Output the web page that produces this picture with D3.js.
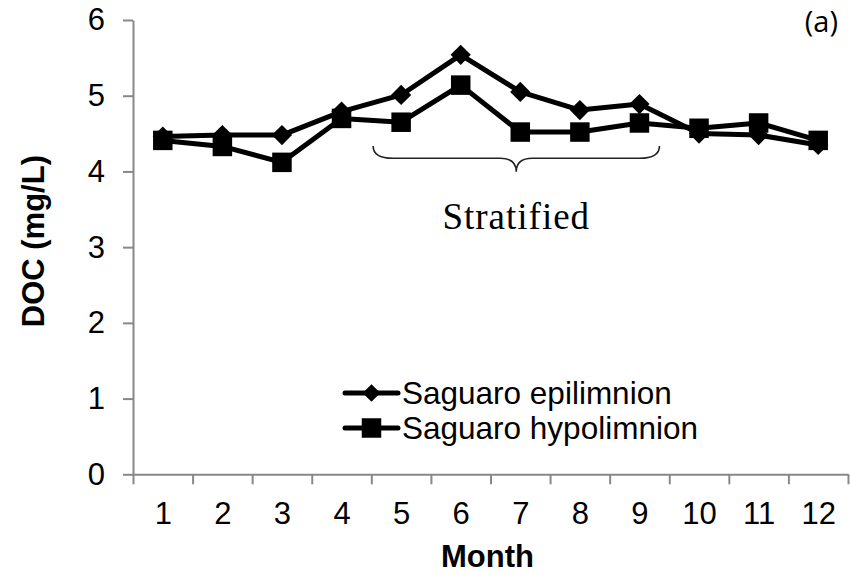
<!DOCTYPE html>
<html>
<head>
<meta charset="utf-8">
<script src="https://cdn.jsdelivr.net/npm/d3@7"></script>
<style>
  html, body { margin: 0; padding: 0; background: #fff; }
  svg { display: block; }
</style>
</head>
<body>
<svg id="chart" width="850" height="579"></svg>
<script>
// Monthly DOC at Saguaro Lake
const months = [1, 2, 3, 4, 5, 6, 7, 8, 9, 10, 11, 12];
const epilimnion = [4.46, 4.48, 4.48, 4.79, 5.01, 5.54, 5.05, 4.81, 4.89, 4.50, 4.48, 4.35];
const hypolimnion = [4.41, 4.33, 4.12, 4.70, 4.65, 5.14, 4.52, 4.52, 4.64, 4.57, 4.64, 4.41];
const yTicks = [0, 1, 2, 3, 4, 5, 6];
const seriesNames = ["Saguaro epilimnion", "Saguaro hypolimnion"];
const stratifiedMonths = [5, 9];

const svg = d3.select("#chart");
const plotLeft = 133, plotRight = 848, plotTop = 20, plotBottom = 474.3;
const sans = "'Liberation Sans', Arial, sans-serif";
const axisColor = "#888";

const x = d3.scaleLinear().domain([0.5, 12.5]).range([plotLeft, plotRight]);
const y = d3.scaleLinear().domain([0, 6]).range([plotBottom, plotTop]);

// y axis
const yAxis = svg.append("g")
  .attr("transform", `translate(${plotLeft},0)`)
  .call(d3.axisLeft(y).tickValues(yTicks).tickSize(10).tickPadding(18).tickSizeOuter(0).tickFormat(d3.format("d")));
yAxis.selectAll("text").attr("font-family", sans).attr("font-size", 31).attr("fill", "#000");

// x axis: tick marks on month boundaries, labels at month centres
const xAxis = svg.append("g")
  .attr("transform", `translate(0,${plotBottom})`)
  .call(d3.axisBottom(x).tickValues(d3.range(0.5, 12.6, 1)).tickSize(10).tickSizeOuter(0).tickFormat(""));
const xLabels = svg.append("g")
  .attr("transform", `translate(0,${plotBottom})`)
  .call(d3.axisBottom(x).tickValues(months).tickSize(0).tickPadding(28).tickFormat(d3.format("d")));
xLabels.select(".domain").remove();
xLabels.selectAll("text").attr("font-family", sans).attr("font-size", 31).attr("fill", "#000");

[yAxis, xAxis].forEach(g => {
  g.selectAll(".domain, line").attr("stroke", axisColor).attr("stroke-width", 2);
});

// axis titles
svg.append("text")
  .attr("x", (plotLeft + plotRight) / 2 - 3).attr("y", 567)
  .attr("text-anchor", "middle")
  .attr("font-family", sans).attr("font-size", 31).attr("font-weight", "bold")
  .text("Month");
svg.append("text")
  .attr("transform", `translate(44,${(plotTop + plotBottom) / 2 - 6}) rotate(-90)`)
  .attr("text-anchor", "middle")
  .attr("font-family", sans).attr("font-size", 31).attr("font-weight", "bold")
  .text("DOC (mg/L)");

// panel tag
svg.append("text")
  .attr("x", 838).attr("y", 32)
  .attr("text-anchor", "end")
  .attr("font-family", "'Open Sans', sans-serif").attr("font-size", 29)
  .text("(a)");

// series
const line = d3.line().x((d, i) => x(months[i])).y(d => y(d));
const diamond = d3.symbol().type(d3.symbolDiamond2).size(260);
const square = d3.symbol().type(d3.symbolSquare).size(380);

function drawSeries(values, sym) {
  const g = svg.append("g");
  g.append("path").datum(values)
    .attr("d", line).attr("fill", "none")
    .attr("stroke", "#000").attr("stroke-width", 5).attr("stroke-linejoin", "round");
  g.selectAll("path.m").data(values).join("path").attr("class", "m")
    .attr("d", sym)
    .attr("transform", (d, i) => `translate(${x(months[i])},${y(d)})`)
    .attr("fill", "#000");
}
drawSeries(epilimnion, diamond);
drawSeries(hypolimnion, square);

// brace over the stratified months
const bx0 = x(stratifiedMonths[0]) - 28, bx1 = x(stratifiedMonths[1]) + 20;
const bm = (bx0 + bx1) / 2;
const by0 = 146, by1 = 158.3, by2 = 171.7;
svg.append("path")
  .attr("d", `M${bx0},${by0} Q${bx0},${by1} ${bx0 + 20},${by1} L${bm - 16},${by1} Q${bm},${by1} ${bm},${by2} Q${bm},${by1} ${bm + 16},${by1} L${bx1 - 20},${by1} Q${bx1},${by1} ${bx1},${by0}`)
  .attr("fill", "none").attr("stroke", "#222").attr("stroke-width", 1.6);
svg.append("text")
  .attr("x", bm).attr("y", 229)
  .attr("text-anchor", "middle")
  .attr("font-family", "'Liberation Serif', 'Times New Roman', serif")
  .attr("font-size", 37).attr("letter-spacing", 1)
  .text("Stratified");

// legend
const legend = svg.append("g");
const legendRows = [
  { name: seriesNames[0], sym: d3.symbol().type(d3.symbolDiamond2).size(200), y: 393 },
  { name: seriesNames[1], sym: d3.symbol().type(d3.symbolSquare).size(380), y: 428 }
];
legendRows.forEach(r => {
  legend.append("line")
    .attr("x1", 345).attr("x2", 398).attr("y1", r.y).attr("y2", r.y)
    .attr("stroke", "#000").attr("stroke-width", 5).attr("stroke-linecap", "round");
  legend.append("path").attr("d", r.sym)
    .attr("transform", `translate(371.5,${r.y})`).attr("fill", "#000");
  legend.append("text")
    .attr("x", 402).attr("y", r.y + 10.5)
    .attr("font-family", sans).attr("font-size", 31.5)
    .text(r.name);
});
</script>
</body>
</html>
